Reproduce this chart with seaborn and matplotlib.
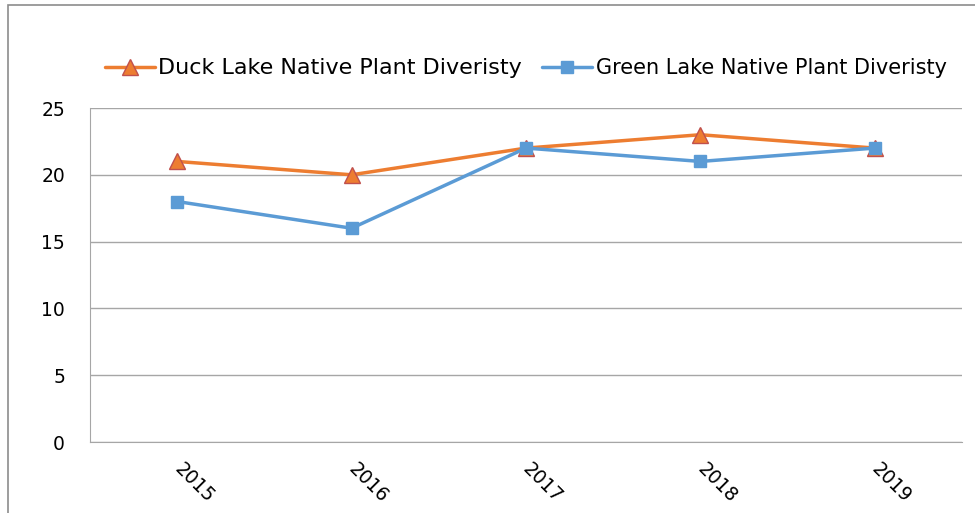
import matplotlib
matplotlib.use("Agg")
import matplotlib.pyplot as plt
import matplotlib.patches as mpatches
import numpy as np
import pandas as pd
import seaborn as sns

# chart data
years = ["2015", "2016", "2017", "2018", "2019"]
duck_lake = [21, 20, 22, 23, 22]
green_lake = [18, 16, 22, 21, 22]
y_ticks = [0, 5, 10, 15, 20, 25]

DUCK_NAME = "Duck Lake Native Plant Diveristy"
GREEN_NAME = "Green Lake Native Plant Diveristy"

sns.set_style("white")
plt.rcParams["font.family"] = ["DejaVu Sans"]
plt.rcParams["text.color"] = "black"

df = pd.DataFrame({
    "pos": list(range(len(years))) * 2,
    "value": duck_lake + green_lake,
    "series": [DUCK_NAME] * len(years) + [GREEN_NAME] * len(years),
})

fig = plt.figure(figsize=(9.75, 5.13), dpi=100)
ax = fig.add_axes([90 / 975, 1 - 442 / 513, 872 / 975, 334 / 513])

# outer chart frame (cropped screenshot look)
fig.patches.append(mpatches.Rectangle((8 / 975, -0.05), 1.0, 1 - 5 / 513 + 0.05,
                                      transform=fig.transFigure, fill=False,
                                      edgecolor="#8c8c8c", linewidth=1.2))

palette = {DUCK_NAME: "#ED7D31", GREEN_NAME: "#5B9BD5"}
sns.lineplot(data=df, x="pos", y="value", hue="series", style="series",
             palette=palette, markers={DUCK_NAME: "^", GREEN_NAME: "s"},
             dashes=False, linewidth=2.5, markersize=10, ax=ax, legend=False)
# marker edges
for line, ec in zip(ax.lines, ["#c0504d", "#5B9BD5"]):
    line.set_markeredgecolor(ec)
    line.set_markeredgewidth(1)
ax.lines[0].set_markersize(12)
ax.lines[1].set_markersize(8)

ax.set_xlim(-0.5, len(years) - 0.5)
ax.set_ylim(0, 25)
ax.set_yticks(y_ticks)
ax.set_yticklabels([str(t) for t in y_ticks], fontsize=13.5, color="black")
ax.yaxis.grid(True, color="#a6a6a6", linewidth=1)
ax.set_axisbelow(True)

ax.set_xticks(range(len(years)))
ax.set_xticklabels(years, fontsize=13.5, color="black", rotation=-45,
                   ha="left", va="center", rotation_mode="anchor")
ax.set_xticks(np.arange(-0.5, len(years)), minor=True)
ax.tick_params(axis="x", which="major", length=0, pad=17)
ax.tick_params(axis="x", which="minor", length=7, color="#a6a6a6", direction="out")
ax.tick_params(axis="y", length=7, color="#a6a6a6", direction="out", pad=11)

ax.set_xlabel("")
ax.set_ylabel("")
for s in ["top", "right"]:
    ax.spines[s].set_visible(False)
ax.spines["left"].set_color("#a6a6a6")
ax.spines["bottom"].set_color("#a6a6a6")

handles = [
    plt.Line2D([], [], color="#ED7D31", linewidth=2.5, marker="^", markersize=12,
               markeredgecolor="#c0504d"),
    plt.Line2D([], [], color="#5B9BD5", linewidth=2.5, marker="s", markersize=8),
]
leg = fig.legend(handles, [DUCK_NAME, GREEN_NAME], loc="center left",
                 bbox_to_anchor=(86 / 975, 1 - 68 / 513), ncol=2, frameon=False,
                 fontsize=15, handlelength=2.4, handletextpad=0.15,
                 columnspacing=1.0)
leg.get_texts()[0].set_fontsize(16)
for t in leg.get_texts():
    t.set_color("black")

fig.savefig("out.png", dpi=100)
